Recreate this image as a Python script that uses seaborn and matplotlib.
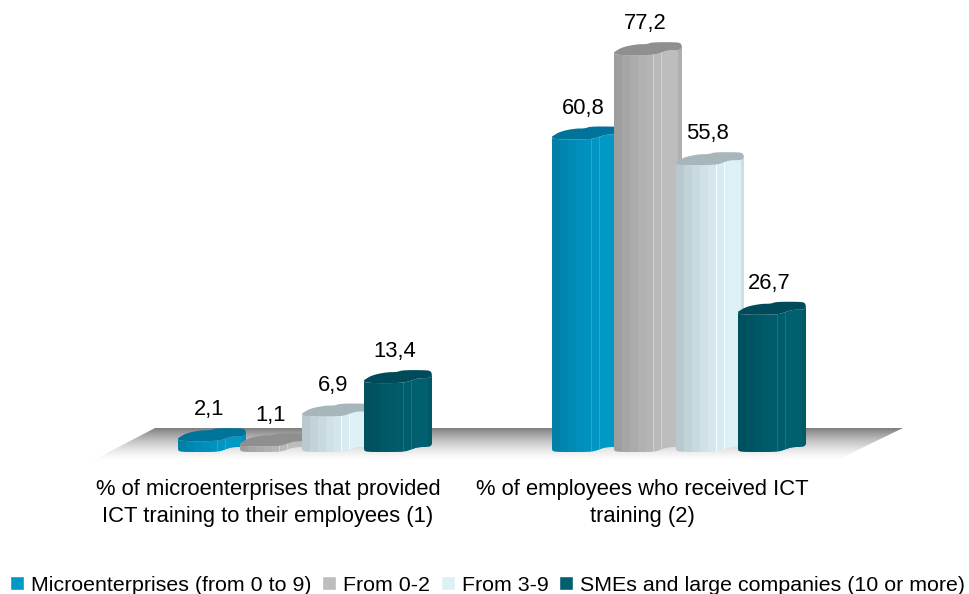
import numpy as np
import pandas as pd
import matplotlib
matplotlib.use("Agg")
import matplotlib.pyplot as plt
from matplotlib.colors import to_rgb
from matplotlib.patches import Polygon
from matplotlib.transforms import ScaledTranslation
import seaborn as sns

categories = ["% of microenterprises that provided\nICT training to their employees (1)",
              "% of employees who received ICT\ntraining (2)"]
series_names = ["Microenterprises (from 0 to 9)", "From 0-2", "From 3-9", "SMEs and large companies (10 or more)"]
micro = [2.1, 60.8]
from_0_2 = [1.1, 77.2]
from_3_9 = [6.9, 55.8]
smes = [13.4, 26.7]

colors = ["#0099C6", "#BDBDBD", "#DDF0F6", "#00606F"]
cap_colors = ["#00739A", "#8F8F8F", "#A6B6BB", "#004A5A"]

W, H = 969, 594
PX_X = 374.0    # pixels per category
PX_Y = 5.14     # pixels per percentage point
BASE_Y = 452
G0_X = 302

sns.set_style("white")
plt.rcParams["font.family"] = ["Liberation Sans", "DejaVu Sans"]

df = pd.DataFrame({
    "category": categories * 4,
    "series": np.repeat(series_names, 2),
    "value": micro + from_0_2 + from_3_9 + smes,
})


def smooth(points, rounds=2):
    """Round the corners of an open outline by corner cutting."""
    pts = np.asarray(points, float)
    for _ in range(rounds):
        q = 0.75 * pts[:-1] + 0.25 * pts[1:]
        r = 0.25 * pts[:-1] + 0.75 * pts[1:]
        pts = np.vstack([pts[:1], np.column_stack([q, r]).reshape(-1, 2), pts[-1:]])
    return pts


fig = plt.figure(figsize=(W / 100, H / 100), dpi=100)
ax = fig.add_axes([0, 0, 1, 1])
ax.patch.set_alpha(0)
sns.barplot(data=df, x="category", y="value", hue="series", hue_order=series_names,
            palette=colors, width=248 / PX_X, saturation=1, ax=ax, zorder=3)
xlim = (-G0_X / PX_X, (W - G0_X) / PX_X)
ylim = (-(H - BASE_Y) / PX_Y, BASE_Y / PX_Y)

# floor with vertical fade
fl = [(155, 428), (903, 428), (833, 462), (90, 462)]
fl_fig = [(x / W, 1 - y / H) for x, y in fl]
t = np.linspace(0, 1, 64)
grad = 1 - 0.5 * (1 - t) ** 1.6
floor_img = ax.imshow(np.stack([grad] * 3, axis=1)[:, None, :], aspect="auto", origin="upper",
                      extent=(90 / W, 903 / W, 1 - 462 / H, 1 - 428 / H),
                      transform=fig.transFigure, zorder=1, interpolation="bilinear")
floor_clip = Polygon(fl_fig, closed=True, transform=fig.transFigure, fc="none", ec="none")
ax.add_patch(floor_clip)
floor_img.set_clip_path(floor_clip)

# wave outline of the column (dx px, up px)
front = smooth([(0, 3), (1, 0), (39, 0), (47, 2.5), (54, 5), (66, 5), (68, 8)])
back = smooth([(68, 8), (67, 12), (62, 13), (38, 13), (33, 11), (23, 11), (8, 8), (0, 3)])
stripes = [0.84, 0.88, 0.91, 0.94, 0.96, 0.98, 1.0, 1.0, 0.93]

for i, cont in enumerate(ax.containers):
    base = np.array(to_rgb(colors[i]))
    for bar in cont:
        x0 = bar.get_x()
        v = bar.get_height()
        fx = x0 + front[:, 0] / PX_X
        bot = front[:, 1] / PX_Y
        top = v + front[:, 1] / PX_Y
        body = list(zip(fx, bot)) + list(zip(fx[::-1], top[::-1]))
        z = 4 + i
        clip = Polygon(body, closed=True, transform=ax.transData, fc="none", ec="none")
        ax.add_patch(clip)
        bar.set_clip_path(clip)
        col = np.repeat(stripes, 8)[:68].astype(float)
        strip = np.outer(col, base)
        for line in (39, 47):
            strip[line] = np.clip(base * 1.0 + 0.09, 0, 1)
        img = ax.imshow(strip[None, :, :], aspect="auto", interpolation="nearest",
                        extent=(x0, x0 + 68 / PX_X, 0, v + 8 / PX_Y), zorder=z)
        img.set_clip_path(clip)
        outline = np.vstack([front, back])
        cap = np.column_stack([x0 + outline[:, 0] / PX_X, v + outline[:, 1] / PX_Y])
        ax.add_patch(Polygon(cap, closed=True, fc=cap_colors[i], ec="none", zorder=z + 0.5))

for cont in ax.containers:
    ax.bar_label(cont, labels=[f"{b.get_height():.1f}".replace(".", ",") for b in cont],
                 padding=15, fontsize=15.8, color="black", zorder=20)

ax.set_xlim(*xlim)
ax.set_ylim(*ylim)
ax.set_xlabel("")
ax.set_ylabel("")
ax.set_yticks([])
ax.tick_params(axis="x", length=0, pad=-(H - 479) * 0.72, labelsize=15.8)
off = ScaledTranslation(-34 / 100, 0, fig.dpi_scale_trans)
for lab in ax.get_xticklabels():
    lab.set_transform(lab.get_transform() + off)
    lab.set_color("black")
    lab.set_linespacing(1.4)
sns.despine(ax=ax, left=True, bottom=True)

sns.move_legend(ax, "lower left", bbox_to_anchor=(0.0105, -0.001), ncol=4, title=None,
                frameon=False, fontsize=15.4, handlelength=0.65, handleheight=0.65,
                handletextpad=0.33, columnspacing=0.5, borderaxespad=0, borderpad=0.0)
for txt in ax.get_legend().get_texts():
    txt.set_color("black")

fig.savefig("out.png", dpi=100, facecolor="white")
